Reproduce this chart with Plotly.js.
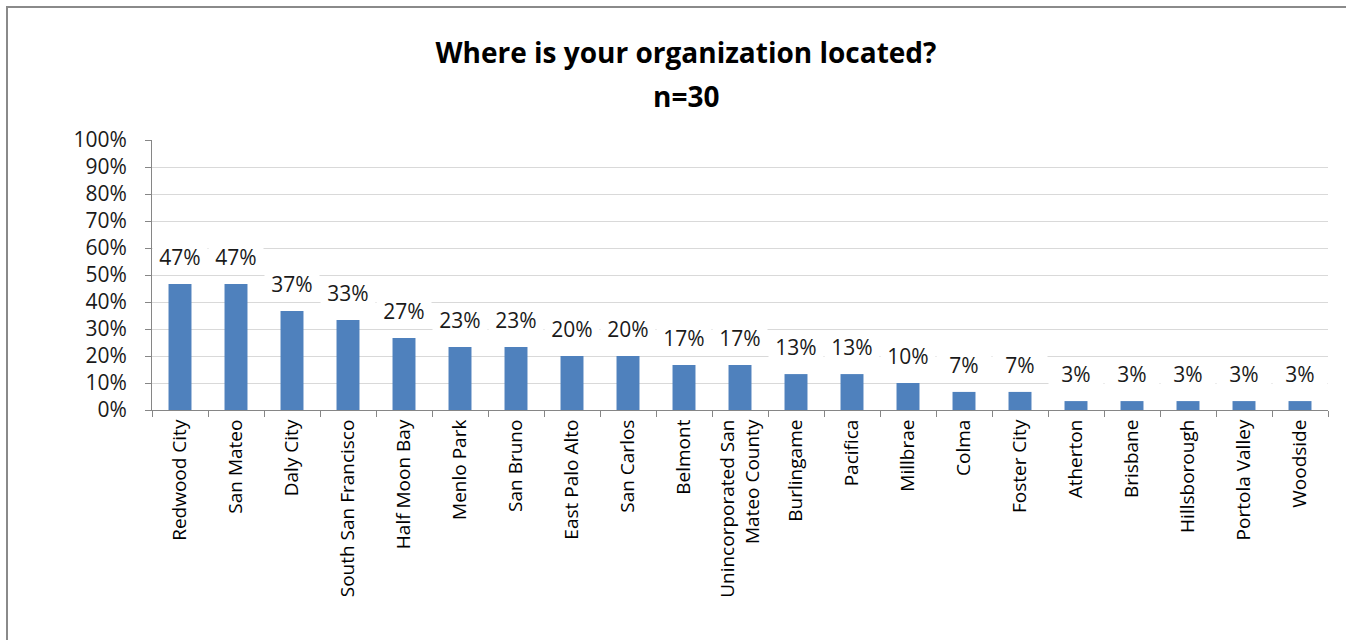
<!DOCTYPE html>
<html>
<head>
<meta charset="utf-8">
<script src="https://cdn.plot.ly/plotly-3.0.1.min.js"></script>
<style>
  html, body { margin: 0; padding: 0; background: #fff; }
  #wrap { position: relative; width: 1346px; height: 640px; overflow: hidden; }
  #chart { position: absolute; left: 0; top: 0; width: 1346px; height: 640px; }
  #frame { position: absolute; left: 6px; top: 6px; width: 1400px; height: 700px;
           border-left: 2px solid #8a8a8a; border-top: 2px solid #8a8a8a; pointer-events: none; }
</style>
</head>
<body>
<div id="wrap">
  <div id="chart"></div>
  <div id="frame"></div>
</div>
<script>
const categories = [
  "Redwood City", "San Mateo", "Daly City", "South San Francisco", "Half Moon Bay",
  "Menlo Park", "San Bruno", "East Palo Alto", "San Carlos", "Belmont",
  "Unincorporated San<br>Mateo County", "Burlingame", "Pacifica", "Millbrae", "Colma",
  "Foster City", "Atherton", "Brisbane", "Hillsborough", "Portola Valley", "Woodside"
];
const values = [
  46.7, 46.7, 36.7, 33.3, 26.7,
  23.3, 23.3, 20.0, 20.0, 16.7,
  16.7, 13.3, 13.3, 10.0, 6.7,
  6.7, 3.3, 3.3, 3.3, 3.3, 3.3
];
const valueLabels = [
  "47%", "47%", "37%", "33%", "27%",
  "23%", "23%", "20%", "20%", "17%",
  "17%", "13%", "13%", "10%", "7%",
  "7%", "3%", "3%", "3%", "3%", "3%"
];
const yTickVals = [0, 10, 20, 30, 40, 50, 60, 70, 80, 90, 100];
const yTickText = ["0%", "10%", "20%", "30%", "40%", "50%", "60%", "70%", "80%", "90%", "100%"];

const FONT = "'Open Sans', sans-serif";

const trace = {
  type: "bar",
  x: categories,
  y: values,
  marker: { color: "#4F81BD" },
  hoverinfo: "skip"
};

const annotations = categories.map((c, i) => ({
  x: c, y: values[i], xref: "x", yref: "y",
  text: valueLabels[i],
  showarrow: false,
  yanchor: "bottom",
  yshift: 11,
  width: 54, height: 30,
  bgcolor: "#ffffff",
  borderpad: 0,
  font: { family: FONT, size: 21, color: "#1a1a1a" }
}));

annotations.push({
  xref: "paper", yref: "paper", x: (686 - 152) / 1176, y: 1.163,
  xanchor: "center", yanchor: "middle",
  text: "<b>n=30</b>", showarrow: false,
  font: { family: FONT, size: 28, color: "#000" }
});

const layout = {
  width: 1346, height: 640,
  margin: { l: 152, r: 18, t: 140, b: 230 },
  paper_bgcolor: "#ffffff",
  plot_bgcolor: "#ffffff",
  showlegend: false,
  bargap: 0.59,
  title: {
    text: "<b>Where is your organization located?</b>",
    x: 686 / 1346, xref: "container", xanchor: "center",
    y: 1 - 53 / 640, yref: "container", yanchor: "middle",
    font: { family: FONT, size: 28, color: "#000" }
  },
  xaxis: {
    type: "category",
    tickangle: -90,
    ticks: "outside", ticklen: 6, tickcolor: "#868686", tickwidth: 1,
    tickson: "boundaries",
    showline: true, linecolor: "#868686", linewidth: 1,
    showgrid: false,
    ticklabelstandoff: 1,
    tickfont: { family: FONT, size: 19, color: "#000" },
    fixedrange: true
  },
  yaxis: {
    range: [0, 100],
    tickvals: yTickVals, ticktext: yTickText,
    ticks: "outside", ticklen: 6, tickcolor: "#868686", tickwidth: 1,
    showline: true, linecolor: "#868686", linewidth: 1,
    showgrid: true, gridcolor: "#D9D9D9", gridwidth: 1,
    zeroline: false,
    ticklabelstandoff: 14,
    tickfont: { family: FONT, size: 21, color: "#1a1a1a" },
    fixedrange: true
  },
  annotations: annotations
};

Plotly.newPlot("chart", [trace], layout, { staticPlot: true, displayModeBar: false });
</script>
</body>
</html>
